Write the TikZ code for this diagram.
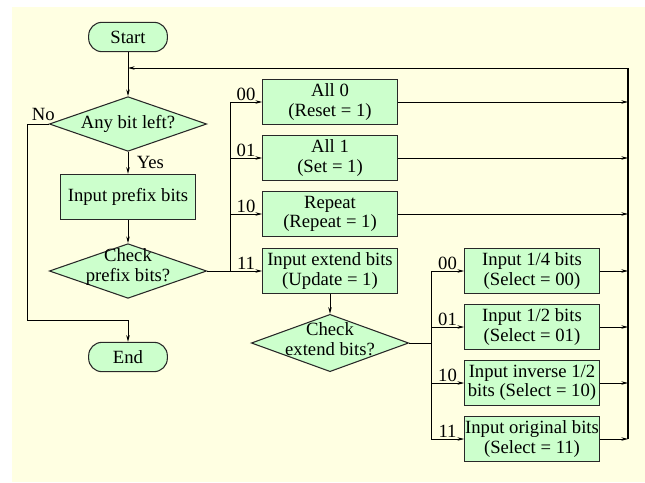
\documentclass[tikz,border=0pt]{standalone}
\usepackage{fontspec}
\setmainfont{Liberation Serif}
\usetikzlibrary{shapes.geometric,arrows.meta}
\definecolor{bgyellow}{RGB}{255,255,226}
\definecolor{boxgreen}{RGB}{204,255,204}
\definecolor{edgegray}{RGB}{40,40,40}

\begin{document}
\begin{tikzpicture}[x=0.75pt, y=-0.75pt,
	font=\fontsize{14}{14.5}\selectfont,
	>={Stealth[length=5pt,width=2.6pt]},
	line/.style={line width=0.55pt},
	term/.style={rectangle, rounded corners=10pt, draw=edgegray, line width=0.8pt, fill=boxgreen, minimum width=59pt, minimum height=22pt, inner sep=0pt},
	proc/.style={rectangle, draw=edgegray, line width=0.8pt, fill=boxgreen, minimum width=101pt, minimum height=34pt, inner sep=0pt, align=center},
	decision/.style={diamond, draw=edgegray, line width=0.8pt, fill=boxgreen, minimum width=118pt, minimum height=41pt, inner sep=0pt},
	dtext/.style={align=center, inner sep=0pt}]
	\useasboundingbox (0,0) rectangle (645,482);
	\fill[bgyellow] (12,7) rectangle (645,482);

	\node (start) at (128,37) [term] {Start};
	\node (anybit) at (128,124) [decision] {};
	\node (anybit-t) at (128,124) [dtext] {Any bit left?};
	\node (prefix) at (128,197) [proc] {Input prefix bits};
	\node (chkpre) at (128,271) [decision] {};
	\node (chkpre-t) at (128,267) [dtext] {Check\\prefix bits?};
	\node (end) at (128,357) [term] {End};

		\node (all0) at (330,102) [proc] {All 0\\(Reset = 1)};
		\node (all1) at (330,158) [proc] {All 1\\(Set = 1)};
		\node (rep) at (330,214) [proc] {Repeat\\(Repeat = 1)};
		\node (ext) at (330,271) [proc] {Input extend bits\\(Update = 1)};
		\node (chkext) at (330,343) [decision, minimum height=43pt] {};
		\node (chkext-t) at (330,339) [dtext] {Check\\extend bits?};

			\node (quar) at (532,271) [proc] {Input 1/4 bits\\(Select = 00)};
			\node (half) at (532,327) [proc] {Input 1/2 bits\\(Select = 01)};
			\node (inv) at (532,383) [proc] {Input inverse 1/2\\bits (Select = 10)};
			\node (orig) at (532,439) [proc] {Input original bits\\(Select = 11)};

	\coordinate (merge) at (128,68);
	\coordinate (bus) at (628,68);
	\coordinate (nobend) at (27,124);
	\coordinate (nobot) at (27,320);
	\coordinate (split1) at (230,271);
	\coordinate (split2) at (431,343);

	% main column
	\draw[line] (start) -- (merge);
	\draw[line, ->] (merge) -- (anybit);
	\draw[line, ->] (anybit) to node [right, xshift=3pt] {Yes} (prefix);
	\draw[line, ->] (prefix) -- (chkpre);
	\draw[line] (anybit.west) -- node [above, pos=0.25, inner sep=2pt] {No} (nobend) -- (nobot) -| (128,320);
	\draw[line, ->] (128,320) -- (end);

	% prefix branches
	\draw[line] (chkpre.east) -- (split1);
	\draw[line, ->] (split1) |- node [above, pos=0.75, inner sep=1pt] {00} (all0);
	\draw[line, ->] (split1) |- node [above, pos=0.75, inner sep=1pt] {01} (all1);
	\draw[line, ->] (split1) |- node [above, pos=0.75, inner sep=1pt] {10} (rep);
	\draw[line, ->] (split1) -- node [above, inner sep=1pt] {11} (ext);
	\draw[line, ->] (ext) -- (chkext);

	% extend branches
	\draw[line] (chkext.east) -- (split2);
	\draw[line, ->] (split2) |- node [above, pos=0.75, inner sep=1pt] {00} (quar);
	\draw[line, ->] (split2) |- node [above, pos=0.75, inner sep=1pt] {01} (half);
	\draw[line, ->] (split2) |- node [above, pos=0.75, inner sep=1pt] {10} (inv);
	\draw[line, ->] (split2) |- node [above, pos=0.75, inner sep=1pt] {11} (orig);

	% back to the loop
	\draw[line, ->] (all0) -- (all0 -| bus);
	\draw[line, ->] (all1) -- (all1 -| bus);
	\draw[line, ->] (rep) -- (rep -| bus);
	\draw[line, ->] (quar) -- (quar -| bus);
	\draw[line, ->] (half) -- (half -| bus);
	\draw[line, ->] (inv) -- (inv -| bus);
	\draw[line, ->] (orig) -- (orig -| bus);
	\draw[line width=0.8pt] (orig -| bus) -- (bus);
	\draw[line, ->] (bus) -- (merge);
\end{tikzpicture}
\end{document}
